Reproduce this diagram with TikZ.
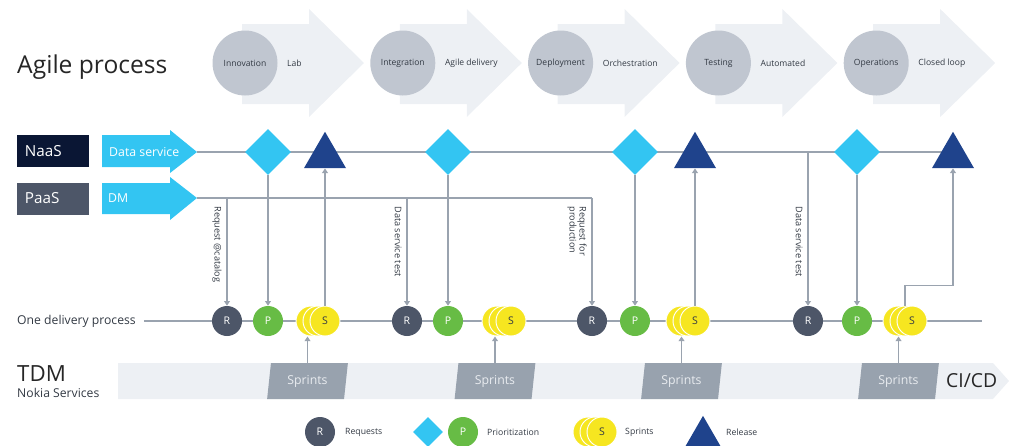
\documentclass[tikz,border=0pt]{standalone}
\usepackage{fontspec}
\setmainfont{Open Sans}
\usetikzlibrary{arrows.meta,shapes.geometric,backgrounds}

\definecolor{chevfill}{HTML}{EDF0F4}
\definecolor{phasefill}{HTML}{C0C6D0}
\definecolor{navybox}{HTML}{0A1634}
\definecolor{slatebox}{HTML}{4D5668}
\definecolor{cyanfill}{HTML}{33C5F2}
\definecolor{linegray}{HTML}{9AA3AF}
\definecolor{relblue}{HTML}{1F438C}
\definecolor{prigreen}{HTML}{67BC45}
\definecolor{sprintyel}{HTML}{F6E620}
\definecolor{sprintgray}{HTML}{98A2AE}
\definecolor{sprinttext}{HTML}{E9ECF0}
\definecolor{textdark}{HTML}{333A44}

\tikzset{
  phase/.style={circle, fill=phasefill, minimum size=1.95cm, inner sep=0pt,
    font=\fontsize{7.3}{8}\selectfont, text=textdark},
  phaselbl/.style={anchor=west, inner sep=0pt, font=\fontsize{7.3}{8}\selectfont, text=textdark},
  platbox/.style={minimum width=2.16cm, minimum height=0.96cm, text width=1.68cm,
    align=left, inner xsep=0.24cm, inner ysep=0pt, text=white, font=\fontsize{13}{15}\selectfont},
  svctxt/.style={anchor=west, inner sep=0pt, text=white, font=\fontsize{10.5}{12}\selectfont},
  req/.style={circle, fill=slatebox, minimum size=0.9cm, inner sep=0pt, text=white,
    font=\fontsize{9}{10}\selectfont},
  pri/.style={req, fill=prigreen},
  spr/.style={req, fill=sprintyel, draw=white, line width=0.8pt, text=textdark},
  gate/.style={diamond, fill=cyanfill, minimum width=1.38cm, minimum height=1.38cm, inner sep=0pt},
  release/.style={regular polygon, regular polygon sides=3, fill=relblue, minimum size=1.455cm, inner sep=0pt},
  flow/.style={draw=linegray, line width=1pt},
  feed/.style={flow, -{Triangle[width=5pt,length=4pt]}},
  sprintbox/.style={trapezium, trapezium left angle=80, trapezium right angle=100,
    trapezium stretches=true, fill=sprintgray, minimum width=2.43cm, minimum height=1.08cm,
    inner sep=0pt, text=sprinttext, font=\fontsize{10.5}{12}\selectfont},
  vlabel/.style={rotate=-90, anchor=north west, inner sep=1pt, align=left,
    font=\fontsize{7.8}{8.6}\selectfont, text=textdark},
  legtxt/.style={anchor=west, inner sep=0pt, font=\fontsize{7.4}{9}\selectfont, text=textdark}
}

\begin{document}
\begin{tikzpicture}[x=0.03cm,y=-0.03cm]
\useasboundingbox (0,0) rectangle (1009,445);

% Agile process chevrons
\node[anchor=base west, inner sep=0pt, font=\fontsize{21}{25}\selectfont, text=black!85] (title) at (17,73) {Agile process};
\foreach \name/\first/\second [count=\i from 0] in {inno/Innovation/Lab, integ/Integration/Agile delivery,
    deploy/Deployment/Orchestration, test/Testing/Automated, ops/Operations/Closed loop}
{
  \pgfmathsetmacro{\bx}{242+157.8*\i}
  \fill[chevfill] (\bx,24) -- (\bx+67,24) -- (\bx+67,9) -- (\bx+122,63) -- (\bx+67,117) -- (\bx+67,104) -- (\bx,104) -- cycle;
  \node[phase] (\name) at (\bx+3,63) {\first};
  \node[phaselbl] (\name-lbl) at (\bx+45,63) {\second};
}

% platforms
\node[platbox, fill=navybox] (naas) at (53,151) {NaaS};
\node[platbox, fill=slatebox] (paas) at (53,198.5) {PaaS};
\fill[cyanfill] (102,135) -- (170,135) -- (170,130) -- (197,152) -- (170,173) -- (170,167) -- (102,167) -- cycle;
\fill[cyanfill] (102,183) -- (170,183) -- (170,177) -- (197,198) -- (170,220) -- (170,214) -- (102,214) -- cycle;
\coordinate (dstip) at (197,152);
\coordinate (dmtip) at (197,198);
\node[svctxt] (dsvc) at (109,152) {Data service};
\node[svctxt] (dm) at (108,198.5) {DM};

% gates and releases
\node[gate] (g1) at (268,152) {};
\node[gate] (g2) at (448,152) {};
\node[gate] (g3) at (635,152) {};
\node[gate] (g4) at (857,152) {};
\node[release] (rel1) at (325,156) {};
\node[release] (rel2) at (695,156) {};
\node[release] (rel3) at (953,156) {};

% one delivery process
\node[anchor=west, inner sep=0pt, font=\fontsize{10.4}{12}\selectfont, text=textdark] (odp) at (17,321) {One delivery process};
\coordinate (odpend) at (982,321);
\node[req] (r1) at (227,321) {R};
\node[pri] (p1) at (268,321) {P};
\node[req] (r2) at (407,321) {R};
\node[pri] (p2) at (448,321) {P};
\node[req] (r3) at (592,321) {R};
\node[pri] (p3) at (635,321) {P};
\node[req] (r4) at (808,321) {R};
\node[pri] (p4) at (857,321) {P};
\foreach \n/\x in {1/325, 2/511, 3/695, 4/912}
{
  \node[spr] (s\n-c) at (\x-14,321) {};
  \node[spr] (s\n-b) at (\x-7,321) {};
  \node[spr] (s\n) at (\x,321) {S};
}
\coordinate (prodturn) at (592,198);

% TDM band
\node[anchor=base west, inner sep=0pt, font=\fontsize{19}{22}\selectfont, text=black!85] (tdm) at (17,381) {TDM};
\node[anchor=base west, inner sep=0pt, font=\fontsize{10.4}{12}\selectfont, text=textdark] (nokia) at (17,397) {Nokia Services};
\fill[chevfill] (118,363) -- (993,363) -- (1009,381) -- (993,399) -- (118,399) -- cycle;
\node[sprintbox] (sb1) at (307.5,381) {Sprints};
\node[sprintbox] (sb2) at (495,381) {Sprints};
\node[sprintbox] (sb3) at (681.5,381) {Sprints};
\node[sprintbox] (sb4) at (898.5,381) {Sprints};
\node[anchor=west, inner sep=0pt, font=\fontsize{16.5}{19}\selectfont, text=black!85] (cicd) at (946,381) {CI/CD};

% lines behind the shapes
\begin{scope}[on background layer]
  \draw[flow] (dstip) -- (dstip -| rel3);
  \draw[flow] (dmtip) -- (prodturn);
  \draw[flow] ([xshift=0.24cm]odp.east) -- (odpend);
\end{scope}

% requests
\draw[feed] (r1.north |- dmtip) -- (r1.north);
\draw[feed] (r2.north |- dmtip) -- (r2.north);
\draw[feed] (prodturn) -- (r3.north);
\draw[feed] (r4.north |- dstip) -- (r4.north);
\node[vlabel] (lbl1) at (223,205) {Request @catalog};
\node[vlabel] (lbl2) at (403,205) {Data service test};
\node[vlabel] (lbl3) at (588,205) {Request for\\production};
\node[vlabel] (lbl4) at (804,205) {Data service test};

% prioritization
\draw[feed] (g1.south) -- (p1.north);
\draw[feed] (g2.south) -- (p2.north);
\draw[feed] (g3.south) -- (p3.north);
\draw[feed] (g4.south) -- (p4.north);

% sprints feed and release
\draw[feed] (sb1.north) -- (sb1.north |- s1.south);
\draw[feed] (sb2.north) -- (sb2.north |- s2.south);
\draw[feed] (sb3.north) -- (sb3.north |- s3.south);
\draw[feed] (sb4.north) -- (sb4.north |- s4.south);
\draw[feed] (s1.north) -- (rel1.south);
\draw[feed] (s3.north) -- (rel2.south);
\draw[feed] (s4-b.north) -- ++(0,-20) -| (rel3.south);

% legend
\node[req] (leg-r) at (320,432) {R};
\node[legtxt] (leg-rt) at (345,432) {Requests};
\node[gate, minimum width=0.9cm, minimum height=0.9cm] (leg-g) at (428,432) {};
\node[pri] (leg-p) at (463,432) {P};
\node[legtxt] (leg-pt) at (487,432) {Prioritization};
\node[spr] (leg-s-c) at (588,432) {};
\node[spr] (leg-s-b) at (595,432) {};
\node[spr] (leg-s) at (602,432) {S};
\node[legtxt] (leg-st) at (625,432) {Sprints};
\node[release, minimum size=1.21cm] (leg-rel) at (703,436) {};
\node[legtxt] (leg-relt) at (726,432) {Release};

\end{tikzpicture}
\end{document}
